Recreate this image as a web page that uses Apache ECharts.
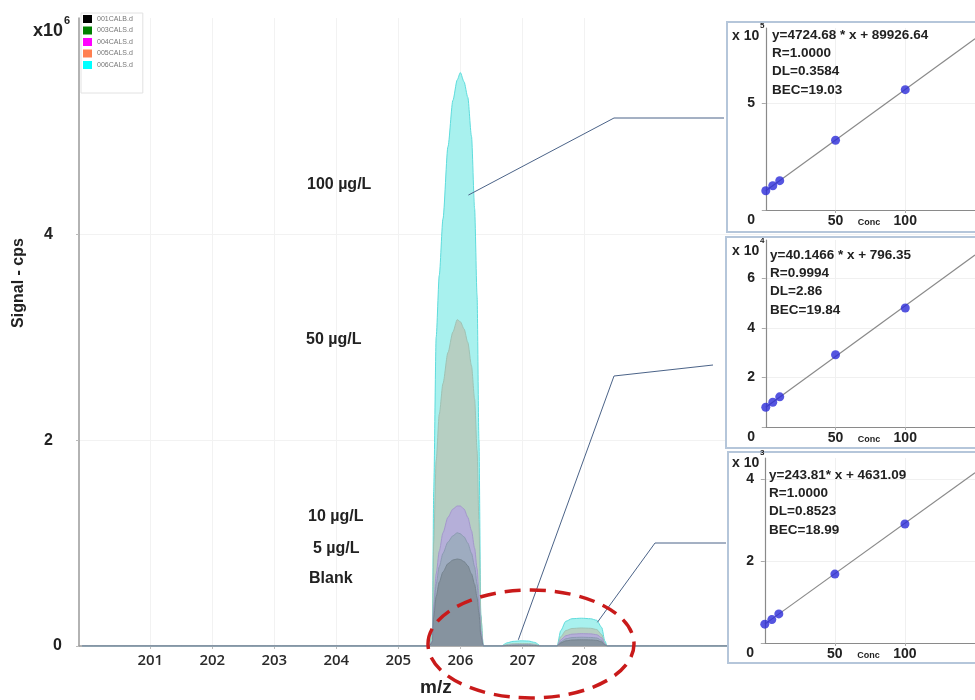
<!DOCTYPE html>
<html><head><meta charset="utf-8">
<script src="https://cdn.jsdelivr.net/npm/echarts@6/dist/echarts.min.js"></script>
<style>html,body{margin:0;padding:0;background:#fff}#c{width:975px;height:700px}</style>
</head><body><div id="c"></div>
<script>
// ---- main spectrum data (signal in x10^6 cps) ----
const mz = [199.9, 205.50, 205.55, 205.57, 205.61, 205.66, 205.72, 205.80, 205.88, 205.95, 206.00, 206.06, 206.12, 206.18, 206.23, 206.27, 206.30, 206.33, 206.37,
  206.66, 206.75, 206.85, 206.98, 207.10, 207.20, 207.30,
  207.56, 207.62, 207.70, 207.80, 207.95, 208.10, 208.20, 208.28, 208.33, 208.37, 214.3];
const sig100 = [0, 0, 0.15, 1.5, 3.0, 3.6, 4.15, 4.85, 5.3, 5.5, 5.57, 5.48, 5.33, 4.95, 4.25, 3.4, 2.0, 0.3, 0,
  0, 0.03, 0.045, 0.05, 0.048, 0.035, 0,
  0, 0.15, 0.24, 0.265, 0.27, 0.265, 0.25, 0.18, 0.05, 0, 0];
const sig50 = [0, 0, 0.1, 1.0, 1.8, 2.25, 2.55, 2.85, 3.05, 3.17, 3.15, 3.08, 2.95, 2.72, 2.4, 1.9, 1.2, 0.3, 0,
  0, 0.015, 0.022, 0.025, 0.024, 0.018, 0,
  0, 0.09, 0.15, 0.17, 0.175, 0.172, 0.16, 0.11, 0.03, 0, 0];
const sig10 = [0, 0, 0.05, 0.4, 0.7, 0.92, 1.1, 1.25, 1.33, 1.36, 1.36, 1.33, 1.25, 1.12, 0.95, 0.75, 0.5, 0.15, 0,
  0, 0.006, 0.009, 0.01, 0.01, 0.007, 0,
  0, 0.06, 0.1, 0.115, 0.12, 0.118, 0.11, 0.08, 0.02, 0, 0];
const sig5 = [0, 0, 0.05, 0.35, 0.6, 0.77, 0.9, 1.01, 1.07, 1.10, 1.09, 1.06, 1.0, 0.9, 0.77, 0.6, 0.4, 0.12, 0,
  0, 0.005, 0.007, 0.008, 0.008, 0.006, 0,
  0, 0.04, 0.07, 0.082, 0.085, 0.083, 0.078, 0.055, 0.015, 0, 0];
const sigBlank = [0, 0, 0.04, 0.28, 0.48, 0.62, 0.72, 0.8, 0.835, 0.845, 0.84, 0.82, 0.78, 0.7, 0.6, 0.47, 0.32, 0.1, 0,
  0, 0.004, 0.006, 0.007, 0.007, 0.005, 0,
  0, 0.03, 0.05, 0.058, 0.06, 0.059, 0.055, 0.04, 0.01, 0, 0];
const seriesNames = ['001CALB.d', '003CALS.d', '004CALS.d', '005CALS.d', '006CALS.d'];
const legendColors = ['#000000', '#008000', '#ff00ff', '#ff7f50', '#00ffff'];
const mzTicks = [201, 202, 203, 204, 205, 206, 207, 208];
const signalTicks = [0, 2, 4];
const levelLabels = ['100 µg/L', '50 µg/L', '10 µg/L', '5 µg/L', 'Blank'];

// ---- calibration insets ----
const conc = [0, 5, 10, 50, 100];
const resp206 = [0.90, 1.13, 1.37, 3.26, 5.62];   // x10^5
const resp207 = [0.80, 1.00, 1.22, 2.92, 4.81];   // x10^4
const resp208 = [0.46, 0.57, 0.71, 1.68, 2.90];   // x10^3
const fitConc = [0, 150];
const fit206 = [0.90, 8.0];
const fit207 = [0.80, 6.95];
const fit208 = [0.46, 4.15];
const concTicks = [50, 100];
const ticks206 = [0, 5];
const ticks207 = [0, 2, 4, 6];
const ticks208 = [0, 2, 4];
const eq206 = ['y=4724.68 * x + 89926.64', 'R=1.0000', 'DL=0.3584', 'BEC=19.03'];
const eq207 = ['y=40.1466 * x + 796.35', 'R=0.9994', 'DL=2.86', 'BEC=19.84'];
const eq208 = ['y=243.81* x + 4631.09', 'R=1.0000', 'DL=0.8523', 'BEC=18.99'];
const exps = ['5', '4', '3'];

const FONT = '"Liberation Sans", Arial, sans-serif';
const chart = echarts.init(document.getElementById('c'), null, {renderer: 'canvas'});

function peak(name, arr, fill, line) {
  return {
    type: 'line', name, xAxisIndex: 0, yAxisIndex: 0,
    data: mz.map((x, i) => [x, arr[i]]),
    symbol: 'none', smooth: 0.25, smoothMonotone: 'x',
    lineStyle: {color: line, width: 1},
    itemStyle: {color: line},
    areaStyle: {color: fill, opacity: 1},
    z: 2, silent: true
  };
}
function calSeries(gi, resp, fit) {
  return [
    {type: 'line', xAxisIndex: gi, yAxisIndex: gi, data: fitConc.map((x, i) => [x, fit[i]]),
     symbol: 'none', lineStyle: {color: '#8a8a8a', width: 1.2}, z: 5, silent: true},
    {type: 'scatter', xAxisIndex: gi, yAxisIndex: gi, data: conc.map((x, i) => [x, resp[i]]),
     symbolSize: 9, itemStyle: {color: '#2a2ad8'}, z: 6, silent: true}
  ];
}
const insetLabel = {
  fontFamily: FONT, fontWeight: 'bold', fontSize: 14, color: '#222'
};
function insetX(gi) {
  return {
    type: 'value', gridIndex: gi, min: -2, max: 150, z: 4,
    axisLine: {lineStyle: {color: '#8a8a8a', width: 1.2}},
    axisTick: {show: true, length: 3, customValues: concTicks, lineStyle: {color: '#aaa'}},
    axisLabel: Object.assign({customValues: concTicks, margin: 4}, insetLabel),
    splitLine: {show: true, lineStyle: {color: '#f0f0f0'}},
    name: 'Conc', nameLocation: 'middle', nameGap: 8, nameMoveOverlap: false,
    nameTextStyle: {fontFamily: FONT, fontWeight: 'bold', fontSize: 9, color: '#222'}
  };
}
function insetY(gi, max, ticks) {
  return {
    type: 'value', gridIndex: gi, min: 0, max: max, z: 4,
    axisLine: {show: true, lineStyle: {color: '#8a8a8a', width: 1.2}},
    axisTick: {show: true, length: 4, customValues: ticks, lineStyle: {color: '#aaa'}},
    axisLabel: Object.assign({
      customValues: ticks, margin: 8,
      formatter: v => v === 0 ? '{z|0}' : '{n|' + v + '}',
      rich: {
        z: Object.assign({padding: [20, 0, 0, 0]}, insetLabel),
        n: Object.assign({}, insetLabel)
      }
    }, insetLabel),
    splitLine: {show: true, lineStyle: {color: '#f0f0f0'}}
  };
}

const option = {
  animation: false,
  backgroundColor: '#fff',
  legend: {
    orient: 'vertical', left: 81, top: 13,
    itemWidth: 9, itemHeight: 8, itemGap: 3.5,
    padding: [2, 10, 24, 2],
    borderColor: '#e2e2e2', borderWidth: 1,
    textStyle: {fontSize: 7, color: '#777', fontFamily: FONT},
    selectedMode: false,
    data: seriesNames.map((n, i) => ({name: n, icon: 'rect', itemStyle: {color: legendColors[i]}}))
  },
  grid: [
    {left: 79, top: 18, width: 896, height: 628},
    {left: 763, top: 28, width: 212, height: 182},
    {left: 763, top: 240, width: 212, height: 187},
    {left: 762, top: 458, width: 213, height: 185}
  ],
  xAxis: [
    {type: 'value', gridIndex: 0, min: 199.85, max: 214.3, z: 0,
     axisLine: {lineStyle: {color: '#9a9a9a', width: 1.5}},
     axisTick: {show: true, length: 3, customValues: mzTicks, lineStyle: {color: '#bbb'}},
     axisLabel: {customValues: mzTicks, margin: 7, fontFamily: '"Open Sans", Arial, sans-serif', fontWeight: 600, fontSize: 15, color: '#2a2a2a'},
     splitLine: {show: true, lineStyle: {color: '#f2f2f2'}}},
    insetX(1), insetX(2), insetX(3)
  ],
  yAxis: [
    {type: 'value', gridIndex: 0, min: 0, max: 6.1, z: 0,
     axisLine: {show: true, lineStyle: {color: '#9a9a9a', width: 1.5}},
     axisTick: {show: true, length: 3, customValues: signalTicks, lineStyle: {color: '#bbb'}},
     axisLabel: {customValues: signalTicks, margin: 17,
       formatter: v => v === 0 ? '{z|0}' : '{n|' + v + '}',
       rich: {
         z: {fontFamily: FONT, fontWeight: 'bold', fontSize: 16, color: '#222'},
         n: {fontFamily: FONT, fontWeight: 'bold', fontSize: 16, color: '#222', padding: [0, 9, 0, 0]}
       }},
     splitLine: {show: true, lineStyle: {color: '#f2f2f2'}}},
    insetY(1, 8.5, ticks206), insetY(2, 7.56, ticks207), insetY(3, 4.51, ticks208)
  ],
  series: [
    peak(seriesNames[4], sig100, '#a8f1ee', '#5edcdc'),
    peak(seriesNames[3], sig50, '#b6cfc2', '#9fc2b4'),
    peak(seriesNames[2], sig10, '#b5afd9', '#a498cc'),
    peak(seriesNames[1], sig5, '#9eacc0', '#8c9bb2'),
    peak(seriesNames[0], sigBlank, '#86939f', '#76848f')
  ].concat(calSeries(1, resp206, fit206), calSeries(2, resp207, fit207), calSeries(3, resp208, fit208))
};
chart.setOption(option);

// ---- annotations ----
const px = (x, y) => chart.convertToPixel({xAxisIndex: 0, yAxisIndex: 0}, [x, y]);
const a1 = px(206.13, 4.38), a2 = px(206.935, 0.06), a3 = px(208.21, 0.23);
const els = [];
function txt(t, x, y, size, extra) {
  els.push(Object.assign({type: 'text', z: 30, style: {text: t, x: x, y: y,
    font: 'bold ' + size + 'px ' + FONT, fill: '#222', textAlign: 'left', textVerticalAlign: 'middle',
    align: 'left', verticalAlign: 'middle'}}, extra || {}));
}
// inset frames
[[727, 22, 210], [726, 237, 211], [728, 452, 211]].forEach(b => {
  els.push({type: 'rect', z: 3, shape: {x: b[0], y: b[1], width: 270, height: b[2]},
    style: {fill: '#fff', stroke: '#b5c6da', lineWidth: 2}});
});
// equations
[[eq206, 772, 35], [eq207, 770, 255], [eq208, 769, 475]].forEach(e => {
  e[0].forEach((line, i) => txt(line, e[1], e[2] + i * 18.3, 13.5));
});
// units of insets
[[36, 26], [251, 241], [463, 453]].forEach((u, i) => {
  txt('x 10', 732, u[0], 14);
  txt(exps[i], 760, u[1], 8);
});
// main units & axis names
txt('x10', 33, 31, 18);
txt('6', 64, 21, 11);
els.push({type: 'text', z: 30, x: 19, y: 283, rotation: Math.PI / 2,
  style: {text: 'Signal - cps', x: 0, y: 0, font: 'bold 16px ' + FONT, fill: '#222',
    textAlign: 'center', textVerticalAlign: 'middle', align: 'center', verticalAlign: 'middle'}});
txt('m/z', 420, 688, 19);
// concentration labels
[[307, 185], [306, 340], [308, 517], [313, 549], [309, 579]].forEach((p, i) => txt(levelLabels[i], p[0], p[1], 16));
// connectors
const cc = '#4b6388';
els.push({type: 'polyline', z: 25, shape: {points: [[724, 118], [614, 118], a1]}, style: {stroke: cc, lineWidth: 1, fill: null}});
els.push({type: 'polyline', z: 25, shape: {points: [[713, 365], [614, 376], a2]}, style: {stroke: cc, lineWidth: 1, fill: null}});
els.push({type: 'polyline', z: 25, shape: {points: [[726, 543], [655, 543], a3]}, style: {stroke: cc, lineWidth: 1, fill: null}});
// red dashed ellipse
els.push({type: 'ellipse', z: 28, shape: {cx: 531, cy: 644, rx: 103, ry: 54},
  style: {fill: null, stroke: '#c91a1a', lineWidth: 3.5, lineDash: [16, 9]}});
chart.setOption({graphic: {elements: els}});
</script>
</body></html>
